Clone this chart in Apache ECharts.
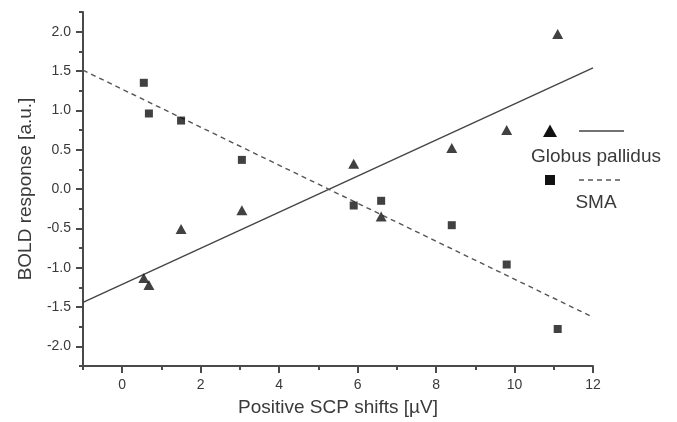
<!DOCTYPE html>
<html>
<head>
<meta charset="utf-8">
<script src="https://cdn.jsdelivr.net/npm/echarts@6/dist/echarts.min.js"></script>
<style>html,body{margin:0;padding:0;background:#fff;}#c{width:677px;height:422px;}</style>
</head>
<body>
<div id="c"></div>
<script>
// Globus pallidus (triangles)
const gpX = [0.55, 0.68, 1.5, 3.05, 5.9, 6.6, 8.4, 9.8, 11.1];
const gpY = [-1.13, -1.22, -0.51, -0.27, 0.32, -0.35, 0.52, 0.75, 1.97];
// SMA (squares)
const smaX = [0.55, 0.68, 1.5, 3.05, 5.9, 6.6, 8.4, 9.8, 11.1];
const smaY = [1.35, 0.96, 0.87, 0.37, -0.21, -0.15, -0.46, -0.96, -1.78];
// regression lines
const fitX = [-1, 12];
const gpFitY = [-1.44, 1.54];
const smaFitY = [1.51, -1.63];
// ticks
const xMajor = [0, 2, 4, 6, 8, 10, 12];
const xMinor = [-1, 1, 3, 5, 7, 9, 11];
const yMajor = [-2, -1.5, -1, -0.5, 0, 0.5, 1, 1.5, 2];
const yMinor = [-2.25, -1.75, -1.25, -0.75, -0.25, 0.25, 0.75, 1.25, 1.75, 2.25];

const zip = (a, b) => a.map((v, i) => [v, b[i]]);
const FONT = 'Liberation Sans, Arial, sans-serif';
const AX = '#4a4a4a';

const chart = echarts.init(document.getElementById('c'));
chart.setOption({
  animation: false,
  grid: {left: 83, right: 84, top: 12, bottom: 55},
  xAxis: [{
    type: 'value', min: -1, max: 12, position: 'bottom',
    name: 'Positive SCP shifts [µV]', nameLocation: 'middle', nameGap: 32,
    nameTextStyle: {fontFamily: FONT, fontSize: 19, color: '#3a3a3a'},
    axisLine: {show: true, onZero: false, lineStyle: {color: AX, width: 2}},
    axisTick: {show: true, inside: false, length: 7, lineStyle: {color: AX, width: 2}, customValues: xMajor},
    axisLabel: {customValues: xMajor, margin: 12, fontFamily: FONT, fontSize: 14, color: '#3a3a3a'},
    splitLine: {show: false}
  }, {
    type: 'value', min: -1, max: 12, position: 'bottom', gridIndex: 0,
    axisLine: {show: false, onZero: false},
    axisTick: {show: true, inside: false, length: 4, lineStyle: {color: AX, width: 2}, customValues: xMinor},
    axisLabel: {show: false},
    splitLine: {show: false}
  }],
  yAxis: [{
    type: 'value', min: -2.25, max: 2.25, position: 'left',
    name: 'BOLD response [a.u.]', nameLocation: 'middle', nameGap: 48, nameRotate: 90,
    nameTextStyle: {fontFamily: FONT, fontSize: 19, color: '#3a3a3a'},
    axisLine: {show: true, onZero: false, lineStyle: {color: AX, width: 2}},
    axisTick: {show: true, inside: false, length: 7, lineStyle: {color: AX, width: 2}, customValues: yMajor},
    axisLabel: {customValues: yMajor, margin: 12, fontFamily: FONT, fontSize: 14, color: '#3a3a3a',
      formatter: v => v.toFixed(1)},
    splitLine: {show: false}
  }, {
    type: 'value', min: -2.25, max: 2.25, position: 'left',
    axisLine: {show: false, onZero: false},
    axisTick: {show: true, inside: false, length: 4, lineStyle: {color: AX, width: 2}, customValues: yMinor},
    axisLabel: {show: false},
    splitLine: {show: false}
  }],
  series: [
    {type: 'line', data: zip(fitX, gpFitY), symbol: 'none', lineStyle: {color: '#444', width: 1.4, type: 'solid'}, z: 2},
    {type: 'line', data: zip(fitX, smaFitY), symbol: 'none', lineStyle: {color: '#555', width: 1.4, type: [5, 4]}, z: 2},
    {type: 'scatter', name: 'Globus pallidus', data: zip(gpX, gpY), symbol: 'triangle', symbolSize: [11, 10],
      itemStyle: {color: '#111'}, z: 3},
    {type: 'scatter', name: 'SMA', data: zip(smaX, smaY), symbol: 'rect', symbolSize: 8,
      itemStyle: {color: '#111'}, z: 3}
  ],
  graphic: [
    {type: 'polygon', shape: {points: [[550, 124.5], [557, 137], [543, 137]]}, style: {fill: '#111'}},
    {type: 'line', shape: {x1: 579, y1: 131, x2: 624, y2: 131}, style: {stroke: '#444', lineWidth: 1.4}},
    {type: 'text', x: 596, y: 157, style: {text: 'Globus pallidus', font: '19px ' + FONT, fill: '#3a3a3a', align: 'center', verticalAlign: 'middle'}},
    {type: 'rect', shape: {x: 545, y: 175, width: 10, height: 10}, style: {fill: '#111'}},
    {type: 'line', shape: {x1: 579, y1: 180, x2: 622, y2: 180}, style: {stroke: '#555', lineWidth: 1.4, lineDash: [5, 4]}},
    {type: 'text', x: 596, y: 203, style: {text: 'SMA', font: '19px ' + FONT, fill: '#3a3a3a', align: 'center', verticalAlign: 'middle'}}
  ]
});
</script>
</body>
</html>
